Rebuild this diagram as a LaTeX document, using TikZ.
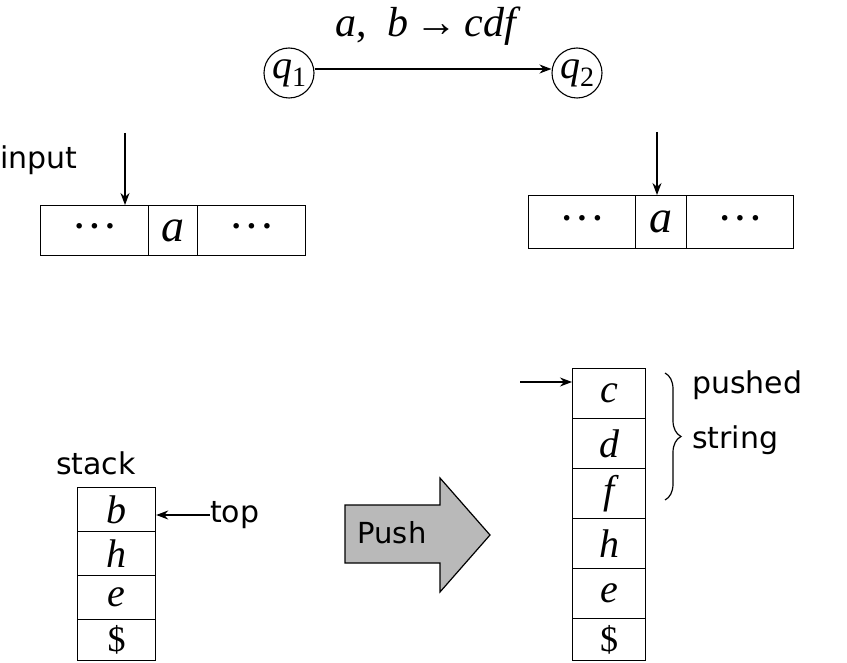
\documentclass[tikz,border=0pt]{standalone}
\usepackage{fontspec}
\setmainfont{Liberation Serif}
\newfontfamily\comic{DejaVu Sans}
\usetikzlibrary{arrows.meta,decorations.pathreplacing}
\newcommand{\dotsrow}{\raisebox{-0.1em}{\bfseries ·\hspace{0.12em}·\hspace{0.12em}·}}
\begin{document}
\begin{tikzpicture}[x=1pt,y=-1pt,
  state/.style={circle,draw,line width=1.1pt,minimum size=50pt,inner sep=0pt,font=\fontsize{40}{40}\selectfont},
  cell/.style={draw,line width=1.2pt,anchor=north west,inner sep=0pt,font=\fontsize{46}{46}\selectfont\itshape},
  dcell/.style={cell,font=\fontsize{34}{34}\selectfont},
  scell/.style={cell,font=\fontsize{40}{40}\selectfont\itshape},
  arr/.style={-{Stealth[length=12pt,width=9pt]},line width=1.2pt},
  lab/.style={font=\comic\fontsize{30}{34}\selectfont,inner sep=0pt}]
\useasboundingbox (0,0) rectangle (847,663);
% states
\node[state] (q1) at (289,73) {\textit{q}\raisebox{-0.22em}{\fontsize{28}{28}\selectfont 1}};
\node[state] (q2) at (577,73) {\textit{q}\raisebox{-0.22em}{\fontsize{28}{28}\selectfont 2}};
\draw[arr] (q1.east |- 0,69) -- (q2.west |- 0,69);
\node[font=\fontsize{42}{42}\selectfont,inner sep=0pt] (tl) at (428,26) {\textit{a},\ \ \textit{b}\,→\,\textit{cdf}};
% left tape
\node[dcell,minimum width=108pt,minimum height=50pt] (l1) at (40,205) {\dotsrow};
\node[cell,minimum width=49pt,minimum height=50pt] (l2) at (148,205) {a};
\node[dcell,minimum width=108pt,minimum height=50pt] (l3) at (197,205) {\dotsrow};
\node[lab,anchor=west] (inp) at (0,160) {input};
\coordinate (ia) at (125,133);
\draw[arr] (ia) -- (ia |- l1.north);
% right tape
\node[dcell,minimum width=107pt,minimum height=53pt] (r1) at (528,195) {\dotsrow};
\node[cell,minimum width=51pt,minimum height=53pt] (r2) at (635,195) {a};
\node[dcell,minimum width=107pt,minimum height=53pt] (r3) at (686,195) {\dotsrow};
\coordinate (ib) at (657,132);
\draw[arr] (ib) -- (ib |- r2.north);
% left stack
\node[lab] (stk) at (96,463) {stack};
\node[scell,minimum width=78pt,minimum height=44pt] (sb) at (77,487) {b};
\node[scell,minimum width=78pt,minimum height=44pt] (sh) at (77,531) {h};
\node[scell,minimum width=78pt,minimum height=44pt] (se) at (77,575) {e};
\node[scell,minimum width=78pt,minimum height=41pt,font=\fontsize{36}{36}\selectfont] (sd) at (77,619) {\$};
\node[lab,anchor=west] (top) at (210,515) {top};
\draw[arr] (top.west) -- (sb.east |- top.west);
% push arrow
\draw[line width=1.2pt,fill=gray!55] (345,505) -- (440,505) -- (440,478) -- (490,535) -- (440,592) -- (440,563) -- (345,563) -- cycle;
\node[lab,font=\comic\fontsize{29}{30}\selectfont] (push) at (392,533) {Push};
% right stack
\node[scell,minimum width=73pt,minimum height=50pt] (tc) at (572,368) {c};
\node[scell,minimum width=73pt,minimum height=50pt] (td) at (572,418) {d};
\node[scell,minimum width=73pt,minimum height=50pt] (tf) at (572,468) {f};
\node[scell,minimum width=73pt,minimum height=50pt] (th) at (572,518) {h};
\node[scell,minimum width=73pt,minimum height=50pt] (te) at (572,568) {e};
\node[scell,minimum width=73pt,minimum height=42pt,font=\fontsize{36}{36}\selectfont] (td2) at (572,618) {\$};
\coordinate (ca) at (520,382);
\draw[arr] (ca) -- (ca -| tc.west);
\coordinate (b1) at (665,373);
\coordinate (b2) at (665,500);
\draw[line width=1.2pt,decorate,decoration={brace,amplitude=16pt}] (b1) -- (b2);
\node[lab,anchor=west] (pu) at (692,385) {pushed};
\node[lab,anchor=west] (ps) at (692,440) {string};
\end{tikzpicture}
\end{document}
